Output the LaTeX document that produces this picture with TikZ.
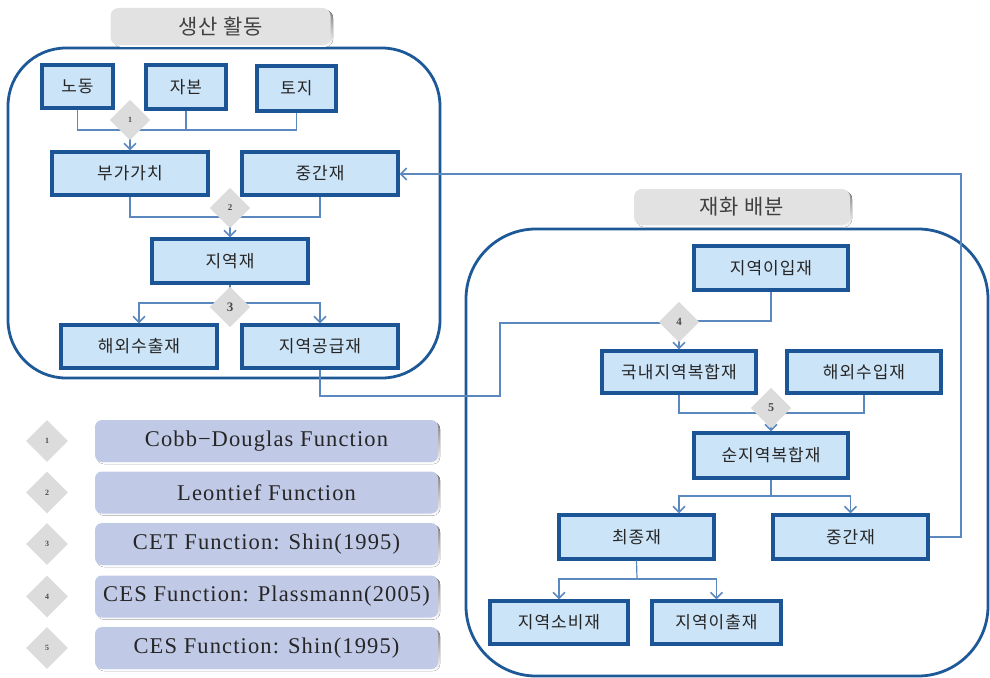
\documentclass[tikz,border=0pt]{standalone}
\usepackage{fontspec}
\setmainfont{Liberation Serif}
\newfontfamily\legfont{Liberation Serif}[LetterSpace=5]
\newfontfamily\kr{Noto Sans CJK KR}[LetterSpace=6]
\newfontfamily\krt{Noto Sans CJK KR}[LetterSpace=4]
\usetikzlibrary{arrows.meta,shapes.geometric}
\definecolor{boxfill}{HTML}{CCE4F8}
\definecolor{boxline}{HTML}{1C5595}
\definecolor{framec}{HTML}{1D5897}
\definecolor{conn}{HTML}{5A88BF}
\definecolor{tabfill}{HTML}{E2E2E2}
\definecolor{legfill}{HTML}{C0C9E6}
\definecolor{dia}{HTML}{DCDCDC}
\definecolor{shade}{HTML}{DDF3FA}
\newcommand\bx[6]{\node[box,minimum width={#4-#2},minimum height={#5-#3}] (#1) at ({(#2+#4)/2},{(#3+#5)/2}) {#6};}
\begin{document}
\begin{tikzpicture}[x=1pt,y=-1pt,
  box/.style={draw=boxline,fill=boxfill,line width=3.2pt,inner sep=0pt,font=\kr\fontsize{17}{19}\selectfont,text=black!85},
  frame/.style={draw=framec,line width=2.8pt},
  tab/.style={fill=tabfill,rounded corners=8pt,inner sep=0pt,font=\krt\fontsize{21}{23}\selectfont,text=black!75},
  conn/.style={draw=conn,line width=1.2pt},
  arr/.style={conn,-{Straight Barb[length=6pt,width=12pt,line width=1.6pt]}},
  dmd/.style={diamond,fill=dia,aspect=1,minimum size=40pt,inner sep=0pt,font=\fontsize{10}{11}\selectfont\bfseries,text=black!70},
  leg/.style={fill=legfill,rounded corners=7pt,inner sep=0pt,font=\legfont\fontsize{22.5}{24}\selectfont,text=black!85},
]
\useasboundingbox (0,0) rectangle (990,677);
\begin{scope}
\clip (0,0) rectangle (990,677);
% frames
\draw[frame,rounded corners=58pt] (8,48) rectangle (440,378);
\draw[frame,rounded corners=70pt] (466,229) rectangle (988,676);
% title tabs
\fill[shade,rounded corners=8pt] (113,10) rectangle (333,47);
\node[tab,minimum width=220,minimum height=37] (t1) at (220.5,26.5) {생산 활동};
\fill[shade,rounded corners=8pt] (636,191) rectangle (852,227);
\node[tab,minimum width=216,minimum height=36] (t2) at (742,207) {재화 배분};
\end{scope}
% left nodes
\bx{nodong}{42}{65}{113}{108}{노동}
\bx{jabon}{146}{65}{226}{109}{자본}
\bx{toji}{257}{66}{336}{111}{토지}
\bx{buga}{52}{152}{208}{195}{부가가치}
\bx{jgl}{242}{152}{398}{195}{중간재}
\bx{jiyeok}{152}{239}{308}{283}{지역재}
\bx{haeoe}{61}{325}{217}{368}{해외수출재}
\bx{gonggeup}{242}{325}{398}{368}{지역공급재}
% right nodes
\bx{ijip}{694}{246}{848}{290}{지역이입재}
\bx{naeji}{602}{351}{756}{393}{국내지역복합재}
\bx{suip}{787}{351}{941}{393}{해외수입재}
\bx{sunji}{694}{433}{848}{478}{순지역복합재}
\bx{choejong}{559}{515}{714}{559}{최종재}
\bx{jgr}{773}{515}{928}{559}{중간재}
\bx{sobi}{490}{601}{628}{644}{지역소비재}
\bx{ichul}{652}{601}{781}{644}{지역이출재}
% junction coordinates
\coordinate (j1) at (130,130);
\coordinate (j2) at (230,217);
\coordinate (j3) at (230,303);
\coordinate (j5) at (771,413);
\coordinate (j6) at (771,496);
\coordinate (j7) at (637,579);
% connectors
\draw[conn] (nodong.south) |- (j1);
\draw[conn] (jabon.south) |- (j1);
\draw[conn] (toji.south) |- (j1);
\draw[conn] (buga.south) |- (j2);
\draw[conn] (jgl.south) |- (j2);
\draw[conn] (jiyeok.south) -- (j3);
\draw[arr] (j3) -| (haeoe.north);
\draw[arr] (j3) -| (gonggeup.north);
\draw[conn] (gonggeup.south) |- (500,396) |- (679,323);
\draw[conn] (ijip.south) |- (679,321);
\draw[conn] (naeji.south) |- (j5);
\draw[conn] (suip.south) |- (j5);
\draw[conn] (sunji.south) -- (j6);
\draw[arr] (j6) -| (choejong.north -| naeji.south);
\draw[arr] (j6) -| (jgr.north);
\draw[conn] (choejong.south) -- (j7);
\draw[arr] (j7) -| (sobi.north);
\draw[arr] (j7) -| (ichul.north);
\draw[arr] (jgr.east) -| (961,174) -- (jgl.east |- 0,174);
% diamonds
\node[dmd] (d1) at (130,120) {};
\node[dmd] (d2) at (230,208) {};
\node[dmd] (d3) at (230,307) {};
\node[dmd] (d4) at (679,322) {};
\node[dmd] (d5) at (771,408) {};
\draw[arr] (d1.center) -- (buga.north);
\draw[arr] (d2.center) -- (jiyeok.north);
\draw[arr] (d4.center) -- (naeji.north);
\draw[arr] (d5.center) -- (sunji.north);
\node[dmd,font=\fontsize{8}{9}\selectfont\bfseries] at (d1) {1};
\node[dmd,font=\fontsize{9}{10}\selectfont\bfseries] at (d2) {2};
\node[dmd,font=\fontsize{13}{14}\selectfont\bfseries] at (d3) {3};
\node[dmd,font=\fontsize{11}{12}\selectfont\bfseries] at (d4) {4};
\node[dmd,font=\fontsize{12}{13}\selectfont\bfseries] at (d5) {5};
% legend
\foreach \i/\y/\t in {1/441/{Cobb{\kern1pt}−{\kern1pt}Douglas Function},2/492.5/{Leontief Function},3/544/{CET Function: Shin(1995)},4/596.5/{CES Function: Plassmann(2005)},5/648/{CES Function: Shin(1995)}}{
  \fill[shade,rounded corners=7pt] (97,\y-19) rectangle (440,\y+23);
  \node[dmd,minimum size=42pt,font=\fontsize{8}{9}\selectfont\bfseries] (ld\i) at (47,\y) {\i};
  \node[leg,minimum width=343,minimum height=42] (lb\i) at (266.5,\y) {\t};
}
\end{tikzpicture}
\end{document}
